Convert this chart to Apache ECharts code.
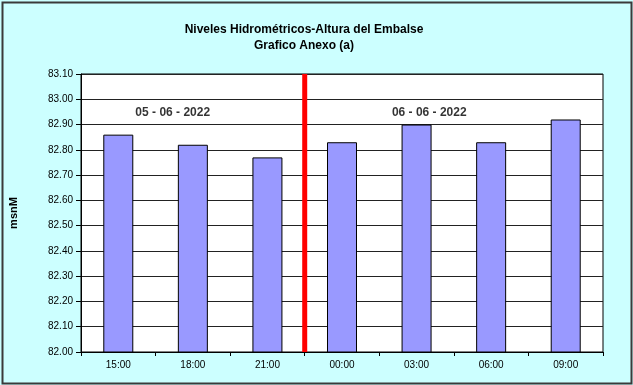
<!DOCTYPE html>
<html>
<head>
<meta charset="utf-8">
<script src="https://cdn.jsdelivr.net/npm/echarts@6/dist/echarts.min.js"></script>
<style>html,body{margin:0;padding:0;background:#fff}#c{width:633px;height:385px}</style>
</head>
<body>
<div id="c"></div>
<script>
const categories = ['15:00', '18:00', '21:00', '00:00', '03:00', '06:00', '09:00'];
const levels = [82.86, 82.82, 82.77, 82.83, 82.90, 82.83, 82.92];
const yTicks = [82.0, 82.1, 82.2, 82.3, 82.4, 82.5, 82.6, 82.7, 82.8, 82.9, 83.0, 83.1];
const dayBreak = 3; // boundary between 21:00 and 00:00 (category units)
const dateLabels = [
  { text: '05 - 06 - 2022', pos: 1.23, level: 82.945 },
  { text: '06 - 06 - 2022', pos: 4.67, level: 82.945 }
];
const titleLines = ['Niveles Hidrométricos-Altura del Embalse', 'Grafico Anexo (a)'];
const yName = 'msnM';

const font = 'Arial, "Liberation Sans", sans-serif';
const chart = echarts.init(document.getElementById('c'), null, { renderer: 'canvas' });
const yMin = yTicks[0], yMax = yTicks[yTicks.length - 1];

chart.setOption({
  backgroundColor: '#CCFFFF',
  animation: false,
  graphic: [{
    type: 'rect', left: 0, top: 0, z: -1,
    shape: { x: 1, y: 1, width: 629, height: 381 },
    style: { fill: 'none', stroke: '#3a3a3a', lineWidth: 2 }
  }],
  title: {
    text: titleLines.join('\n'),
    left: 299, top: 17, textAlign: 'center',
    textStyle: { fontFamily: font, fontSize: 12, fontWeight: 'bold', color: '#000', lineHeight: 16 }
  },
  grid: { left: 78, right: 30, top: 74, bottom: 33, show: true, backgroundColor: '#fff', borderColor: '#000', borderWidth: 1 },
  xAxis: [{
    type: 'category', data: categories, boundaryGap: true,
    axisLine: { lineStyle: { color: '#000', width: 1 } },
    axisTick: { show: true, length: 4, lineStyle: { color: '#000' } },
    axisLabel: { fontFamily: font, fontSize: 10, color: '#000', margin: 8 },
    splitLine: { show: false }
  }, {
    type: 'value', min: 0, max: categories.length, show: false
  }],
  yAxis: {
    type: 'value', min: yMin, max: yMax, interval: 0.1,
    name: yName, nameLocation: 'middle', nameGap: 62, nameRotate: 90,
    nameTextStyle: { fontFamily: font, fontSize: 11, fontWeight: 'bold', color: '#000' },
    axisLine: { show: true, lineStyle: { color: '#000' } },
    axisTick: { show: true, length: 5, inside: false, lineStyle: { color: '#000' } },
    axisLabel: { fontFamily: font, fontSize: 10, color: '#000', margin: 8, formatter: v => v.toFixed(2) },
    splitLine: { show: true, lineStyle: { color: '#222', width: 1 } }
  },
  series: [{
    type: 'bar', data: levels, barWidth: 30, xAxisIndex: 0,
    itemStyle: { color: '#9999FF', borderColor: '#000', borderWidth: 1 }
  }, {
    type: 'line', xAxisIndex: 1, symbol: 'none', z: 5,
    data: [[dayBreak, yMin], [dayBreak, yMax]],
    lineStyle: { color: '#FF0000', width: 5 }
  }, {
    type: 'scatter', xAxisIndex: 1, symbolSize: 0, z: 6,
    data: dateLabels.map(d => ({ value: [d.pos, d.level], name: d.text })),
    label: { show: true, position: 'inside', formatter: p => p.name, fontFamily: font, fontSize: 12, fontWeight: 'bold', color: '#000' }
  }]
});
</script>
</body>
</html>
